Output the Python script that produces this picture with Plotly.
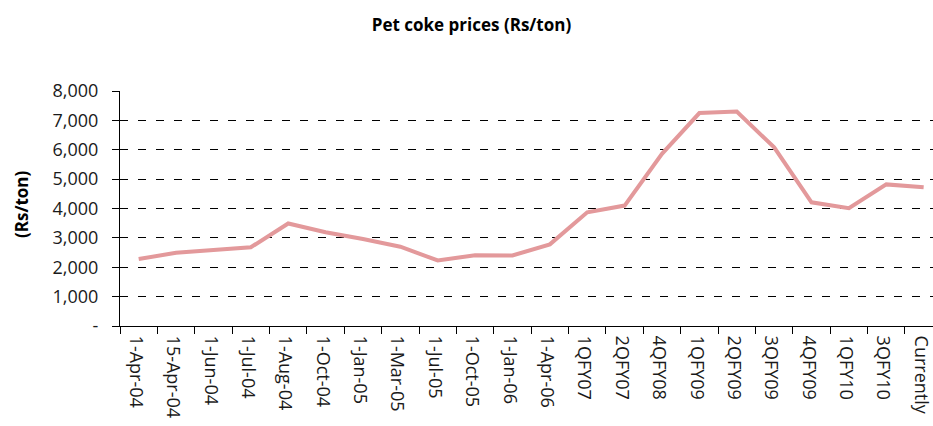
import plotly.graph_objects as go

categories = ["1-Apr-04", "15-Apr-04", "1-Jun-04", "1-Jul-04", "1-Aug-04", "1-Oct-04",
              "1-Jan-05", "1-Mar-05", "1-Jul-05", "1-Oct-05", "1-Jan-06", "1-Apr-06",
              "1QFY07", "2QFY07", "4QFY08", "1QFY09", "2QFY09", "3QFY09", "4QFY09",
              "1QFY10", "3QFY10", "Currently"]
prices = [2280, 2490, 2590, 2680, 3490, 3190, 2960, 2700, 2230, 2410, 2400, 2780,
          3870, 4100, 5860, 7250, 7300, 6080, 4210, 4010, 4820, 4720]
ytick_vals = [0, 1000, 2000, 3000, 4000, 5000, 6000, 7000, 8000]
ytick_text = ["-", "1,000", "2,000", "3,000", "4,000", "5,000", "6,000", "7,000", "8,000"]

FONT = "Open Sans"

fig = go.Figure()
fig.add_trace(go.Scatter(
    x=categories, y=prices, mode="lines",
    line=dict(color="#E3999B", width=4),
    showlegend=False, hoverinfo="x+y",
))

fig.update_layout(
    width=933, height=426,
    margin=dict(l=120, r=0, t=91, b=100),
    paper_bgcolor="white", plot_bgcolor="white",
    font=dict(family=FONT, color="#1a1a1a"),
    title=dict(text="<b>Pet coke prices (Rs/ton)</b>", x=471.5 / 933, xanchor="center",
               y=1 - 25 / 426, yanchor="middle", yref="container",
               font=dict(size=17, family=FONT, color="#000000")),
    annotations=[dict(
        text="<b>(Rs/ton)</b>", textangle=-90, showarrow=False,
        xref="paper", yref="paper", x=(21 - 120) / 813, y=(326 - 204) / 235,
        xanchor="center", yanchor="middle",
        font=dict(size=17, family=FONT, color="#000000"),
    )],
)

fig.update_xaxes(
    type="category",
    range=[-0.5, 21.25],
    showline=True, linecolor="black", linewidth=1,
    ticks="outside", tickson="boundaries", ticklen=7, tickcolor="black",
    tickangle=90, tickfont=dict(size=18, family=FONT, color="#1a1a1a"),
    ticklabelshift=-3, ticklabelstandoff=5,
    showgrid=False, automargin=False,
)

fig.update_yaxes(
    range=[0, 8000],
    tickmode="array", tickvals=ytick_vals, ticktext=ytick_text,
    showline=True, linecolor="black", linewidth=1,
    ticks="outside", ticklen=7, tickcolor="black",
    tickfont=dict(size=18, family=FONT, color="#1a1a1a"),
    ticklabelstandoff=10,
    showgrid=True, gridcolor="black", gridwidth=1, griddash="8px,10px",
    zeroline=False, automargin=False,
)

fig.write_html("out.html")
